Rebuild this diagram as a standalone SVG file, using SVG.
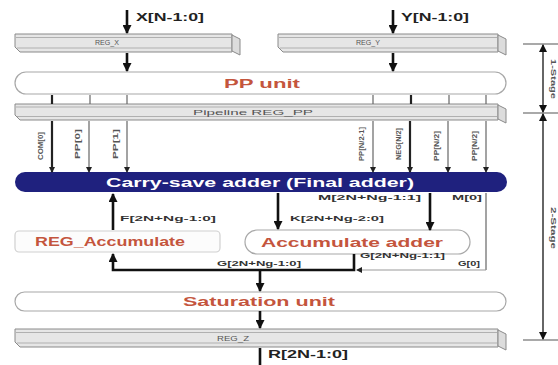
<svg xmlns="http://www.w3.org/2000/svg" width="558" height="365" viewBox="0 0 558 365">
<defs>
<marker id="ah" markerUnits="userSpaceOnUse" markerWidth="9" markerHeight="9" refX="8" refY="4.5" orient="auto"><path d="M0,0 L9,4.5 L0,9 Z" fill="#111"/></marker>
<marker id="as" markerUnits="userSpaceOnUse" markerWidth="6" markerHeight="6" refX="5" refY="3" orient="auto"><path d="M0,0 L6,3 L0,6 Z" fill="#222"/></marker>
<marker id="ad" markerUnits="userSpaceOnUse" markerWidth="8" markerHeight="8" refX="7" refY="4" orient="auto"><path d="M0,0 L8,4 L0,8 Z" fill="#111"/></marker>
</defs>
<style>
.bar{fill:#e6e6e6;stroke:#8a8a8a;stroke-width:1}
.cap{fill:#dcdcdc;stroke:#8a8a8a;stroke-width:1}
.strip{stroke:#b0b0b0;stroke-width:1;fill:none}
.pill{fill:#fff;stroke:#a8a8a8;stroke-width:1.2}
.regt{font-family:"Liberation Sans",Arial,sans-serif;font-size:8px;fill:#555;text-anchor:middle}
.unit{font-family:"Liberation Sans",Arial,sans-serif;font-size:12.5px;font-weight:bold;fill:#c4553d;text-anchor:middle}
.lbl{font-family:"Liberation Sans",Arial,sans-serif;font-size:8px;font-weight:bold;fill:#333}
.vl{font-family:"Liberation Sans",Arial,sans-serif;font-size:7px;font-weight:bold;fill:#555;text-anchor:middle}
.io{font-family:"Liberation Sans",Arial,sans-serif;font-size:10px;font-weight:bold;fill:#222}
.thick{stroke:#111;stroke-width:2.6;fill:none}
.thin{stroke:#666;stroke-width:1.2;fill:none}
.tick{stroke:#555;stroke-width:1.2}
</style>

<g id="reg_x">
<polygon class="bar" points="15,34 232,34 232,52 20,52 15,47"/>
<line class="strip" x1="16" y1="37.5" x2="231" y2="37.5"/>
<line class="strip" x1="17" y1="48" x2="231" y2="48"/>
<polygon class="cap" points="232,35 240,39 240,55 232,51"/>
<text class="regt" x="107" y="45" textLength="24" lengthAdjust="spacingAndGlyphs">REG_X</text>
</g>

<g id="reg_y">
<polygon class="bar" points="278,34 498,34 498,52 283,52 278,47"/>
<line class="strip" x1="279" y1="37.5" x2="497" y2="37.5"/>
<line class="strip" x1="280" y1="48" x2="497" y2="48"/>
<polygon class="cap" points="498,35 506,39 506,55 498,51"/>
<text class="regt" x="368" y="45" textLength="24" lengthAdjust="spacingAndGlyphs">REG_Y</text>
</g>

<g id="pp_unit">
<rect class="pill" x="15" y="72" width="491" height="22" rx="11"/>
<text class="unit" x="262" y="88" textLength="76" lengthAdjust="spacingAndGlyphs">PP unit</text>
</g>

<g id="pipeline_reg_pp">
<polygon class="bar" points="15,104 498,104 498,120 20,120 15,115"/>
<line class="strip" x1="16" y1="107" x2="497" y2="107"/>
<line class="strip" x1="17" y1="116.5" x2="497" y2="116.5"/>
<polygon class="cap" points="498,105 506,109 506,123 498,119"/>
<text class="regt" x="253" y="115" textLength="120" lengthAdjust="spacingAndGlyphs">Pipeline REG_PP</text>
</g>

<g id="carry_save_adder">
<rect x="15" y="172" width="492" height="20" rx="10" fill="#1f217e"/>
<text x="260" y="186.5" font-family="'Liberation Sans',Arial,sans-serif" font-size="12.5" font-weight="bold" fill="#fff" text-anchor="middle" textLength="308" lengthAdjust="spacingAndGlyphs">Carry-save adder (Final adder)</text>
</g>

<g id="reg_accumulate">
<rect x="15" y="231" width="205" height="21" rx="4" fill="#fcfcfc" stroke="#d0d0d0" stroke-width="1.2"/>
<text class="unit" x="110" y="246" textLength="150" lengthAdjust="spacingAndGlyphs">REG_Accumulate</text>
</g>

<g id="accumulate_adder">
<rect class="pill" x="245" y="230" width="225" height="24" rx="12"/>
<text class="unit" x="352" y="247" textLength="182" lengthAdjust="spacingAndGlyphs">Accumulate adder</text>
</g>

<g id="saturation_unit">
<rect class="pill" x="15" y="292" width="491" height="19" rx="9.5"/>
<text class="unit" x="259" y="306" textLength="152" lengthAdjust="spacingAndGlyphs">Saturation unit</text>
</g>

<g id="reg_z">
<polygon class="bar" points="15,329 498,329 498,347 20,347 15,342"/>
<line class="strip" x1="16" y1="332.5" x2="497" y2="332.5"/>
<line class="strip" x1="17" y1="343" x2="497" y2="343"/>
<polygon class="cap" points="498,330 506,334 506,350 498,346"/>
<text class="regt" x="233" y="341" textLength="32" lengthAdjust="spacingAndGlyphs">REG_Z</text>
</g>

<g id="stage_dims">
<line class="tick" x1="523" y1="44" x2="558" y2="44"/>
<line class="tick" x1="523" y1="113" x2="558" y2="113"/>
<line class="tick" x1="523" y1="340" x2="558" y2="340"/>
<line x1="543" y1="78" x2="543" y2="45" stroke="#333" stroke-width="1.5" marker-end="url(#ad)"/>
<line x1="543" y1="78" x2="543" y2="112" stroke="#333" stroke-width="1.5" marker-end="url(#ad)"/>
<line x1="543" y1="225" x2="543" y2="114" stroke="#333" stroke-width="1.5" marker-end="url(#ad)"/>
<line x1="543" y1="225" x2="543" y2="339" stroke="#333" stroke-width="1.5" marker-end="url(#ad)"/>
<text class="vl" transform="translate(551,79) rotate(90)" textLength="40" lengthAdjust="spacingAndGlyphs">1-Stage</text>
<text class="vl" transform="translate(551,228) rotate(90)" textLength="42" lengthAdjust="spacingAndGlyphs">2-Stage</text>
</g>

<g id="connectors">
<line class="thick" x1="127" y1="10" x2="127" y2="33" marker-end="url(#ah)"/>
<text class="io" x="136" y="21" textLength="68" lengthAdjust="spacingAndGlyphs">X[N-1:0]</text>
<line class="thick" x1="393" y1="10" x2="393" y2="33" marker-end="url(#ah)"/>
<text class="io" x="401" y="21" textLength="68" lengthAdjust="spacingAndGlyphs">Y[N-1:0]</text>
<line class="thick" x1="127" y1="53" x2="127" y2="71" marker-end="url(#ah)"/>
<line class="thick" x1="393" y1="53" x2="393" y2="71" marker-end="url(#ah)"/>

<line stroke="#222" stroke-width="2.2" x1="52" y1="95" x2="52" y2="104"/>
<line class="thin" x1="90" y1="95" x2="90" y2="104"/>
<line class="thin" x1="127" y1="95" x2="127" y2="104"/>
<line class="thin" x1="373" y1="95" x2="373" y2="104"/>
<line stroke="#222" stroke-width="2.2" x1="411" y1="95" x2="411" y2="104"/>
<line class="thin" x1="449" y1="95" x2="449" y2="104"/>
<line class="thin" x1="486" y1="95" x2="486" y2="104"/>

<line stroke="#222" stroke-width="2.2" x1="52" y1="121" x2="52" y2="172" marker-end="url(#as)"/>
<line class="thin" x1="89" y1="121" x2="89" y2="172" marker-end="url(#as)"/>
<line class="thin" x1="127" y1="121" x2="127" y2="172" marker-end="url(#as)"/>
<line class="thin" x1="373" y1="121" x2="373" y2="172" marker-end="url(#as)"/>
<line stroke="#222" stroke-width="2.2" x1="410" y1="121" x2="410" y2="172" marker-end="url(#as)"/>
<line class="thin" x1="448" y1="121" x2="448" y2="172" marker-end="url(#as)"/>
<line class="thin" x1="486" y1="121" x2="486" y2="172" marker-end="url(#as)"/>
<text class="vl" transform="translate(43,146) rotate(-90)" textLength="28" lengthAdjust="spacingAndGlyphs">COM[0]</text>
<text class="vl" transform="translate(80,144) rotate(-90)" textLength="30" lengthAdjust="spacingAndGlyphs">PP[0]</text>
<text class="vl" transform="translate(118,144) rotate(-90)" textLength="30" lengthAdjust="spacingAndGlyphs">PP[1]</text>
<text class="vl" transform="translate(364,144) rotate(-90)" textLength="34" lengthAdjust="spacingAndGlyphs">PP[N/2-1]</text>
<text class="vl" transform="translate(401,144) rotate(-90)" textLength="32" lengthAdjust="spacingAndGlyphs">NEG[N/2]</text>
<text class="vl" transform="translate(439,146) rotate(-90)" textLength="30" lengthAdjust="spacingAndGlyphs">PP[N/2]</text>
<text class="vl" transform="translate(477,146) rotate(-90)" textLength="30" lengthAdjust="spacingAndGlyphs">PP[N/2]</text>

<line class="thick" x1="113" y1="230" x2="113" y2="194" marker-end="url(#ah)"/>
<text class="lbl" x="120" y="221" textLength="96" lengthAdjust="spacingAndGlyphs">F[2N+Ng-1:0]</text>
<line class="thick" x1="278" y1="193" x2="278" y2="229" marker-end="url(#ah)"/>
<text class="lbl" x="290" y="221" textLength="94" lengthAdjust="spacingAndGlyphs">K[2N+Ng-2:0]</text>
<line class="thick" x1="430" y1="193" x2="430" y2="230" marker-end="url(#ah)"/>
<text class="lbl" x="318" y="200" textLength="103" lengthAdjust="spacingAndGlyphs">M[2N+Ng-1:1]</text>
<line class="thin" x1="486" y1="193" x2="486" y2="270" stroke="#999"/>
<text class="lbl" x="452" y="200" textLength="30" lengthAdjust="spacingAndGlyphs">M[0]</text>
<line x1="486" y1="270" x2="357" y2="270" stroke="#999" stroke-width="1.2" marker-end="url(#as)"/>
<text class="lbl" x="458" y="266" textLength="22" lengthAdjust="spacingAndGlyphs">G[0]</text>

<polyline class="thick" points="354,254 354,270 113,270 113,254" marker-end="url(#ah)"/>
<text class="lbl" x="360" y="258" textLength="85" lengthAdjust="spacingAndGlyphs">G[2N+Ng-1:1]</text>
<text class="lbl" x="217" y="266" textLength="84" lengthAdjust="spacingAndGlyphs">G[2N+Ng-1:0]</text>
<line class="thick" x1="260" y1="270" x2="260" y2="291" marker-end="url(#ah)"/>

<line class="thick" x1="260" y1="311" x2="260" y2="328" marker-end="url(#ah)"/>
<line class="thick" x1="260" y1="348" x2="260" y2="365"/>
<text class="io" x="268" y="358" textLength="80" lengthAdjust="spacingAndGlyphs">R[2N-1:0]</text>
</g>
</svg>
